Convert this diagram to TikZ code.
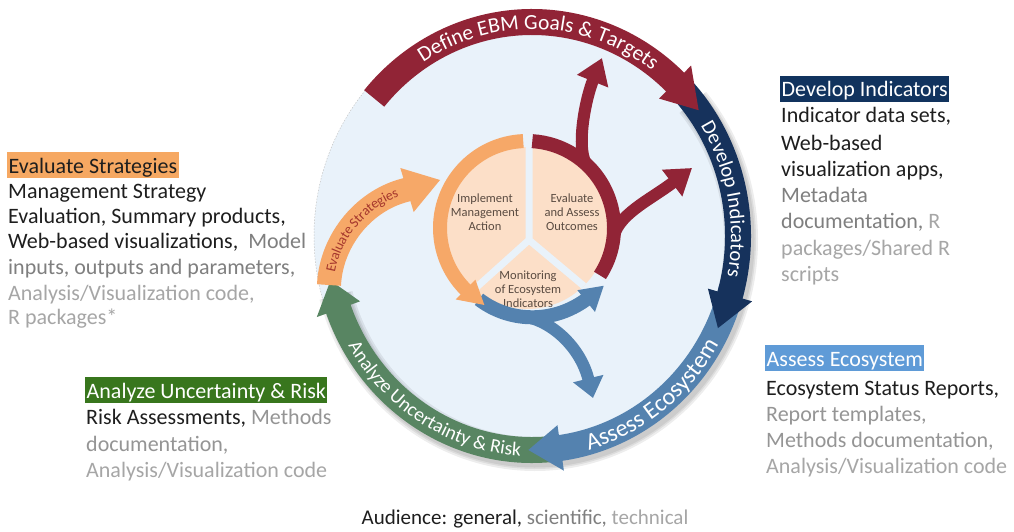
\documentclass[tikz,border=0pt]{standalone}
\usepackage{fontspec}
\setmainfont{Carlito}
\usetikzlibrary{arrows.meta,decorations.text}

\definecolor{diskblue}{RGB}{233,242,250}
\definecolor{defred}{RGB}{145,36,54}
\definecolor{devnavy}{RGB}{22,50,92}
\definecolor{assblue}{RGB}{84,130,175}
\definecolor{anagreen}{RGB}{88,133,98}
\definecolor{evalorange}{RGB}{246,168,104}
\definecolor{peach}{RGB}{252,223,200}
\definecolor{sectortext}{RGB}{90,75,65}
\definecolor{strattext}{RGB}{165,55,45}
\definecolor{hlorange}{RGB}{246,168,98}
\definecolor{hlnavy}{RGB}{17,51,94}
\definecolor{hlblue}{RGB}{95,155,215}
\definecolor{hlgreen}{RGB}{56,118,29}
\definecolor{txtgeneral}{RGB}{30,30,30}
\definecolor{txtsci}{RGB}{127,127,127}
\definecolor{txttech}{RGB}{166,166,166}

\tikzset{
  ringband/.style={line width=26pt},
  innerband/.style={line width=14pt},
  branchband/.style={line width=12pt},
  ringshadow/.style={black, opacity=0.07},
  heading/.style={anchor=base west, inner xsep=1.5pt, inner ysep=0pt,
    text height=21pt, text depth=5pt, font=\fontsize{22}{26}\selectfont},
  bodyline/.style={anchor=base west, inner sep=0pt,
    font=\fontsize{22}{26}\selectfont, text=txtgeneral},
  sectorlabel/.style={align=center, font=\fontsize{12.5}{14}\selectfont,
    text=sectortext, inner sep=0pt},
}

\begin{document}
\begin{tikzpicture}[x=1pt,y=1pt]
\useasboundingbox (0,-532) rectangle (1014,0);
\fill[white] (0,-532) rectangle (1014,0);

% ---------------- outer cycle ----------------
\begin{scope}[shift={(532,-236)}]
  \fill[diskblue] (0,0) ellipse[x radius=218, y radius=226];
  \draw[gray!45, line width=0.5pt, dash pattern=on 1.5pt off 1.5pt]
    (0,0) ellipse[x radius=218, y radius=226];

  % soft shadow under the lower right part of the ring
  \foreach \w in {34,30,27}{
    \draw[ringshadow, line width=\w pt] ([shift={(3,-4)}]40:206 and 214)
      arc[start angle=40, end angle=-165, x radius=206, y radius=214];
  }

  % Analyze Uncertainty & Risk
  \draw[anagreen, ringband] (-84:206 and 214)
    arc[start angle=-84, end angle=-161, x radius=206, y radius=214];
  \fill[anagreen] (-160:183 and 191) -- (-160:229 and 237) -- (-168:206 and 214) -- cycle;

  % Assess Ecosystem
  \draw[assblue, ringband] (-14:206 and 214)
    arc[start angle=-14, end angle=-83, x radius=206, y radius=214];
  \fill[assblue] (-82:183 and 191) -- (-82:229 and 237) -- (-91:206 and 214) -- cycle;

  % Develop Indicators
  \draw[devnavy, ringband] (44:206 and 214)
    arc[start angle=44, end angle=-17, x radius=206, y radius=214];
  \fill[devnavy] (-16:183 and 191) -- (-16:229 and 237) -- (-25.5:206 and 214) -- cycle;

  % Define EBM Goals & Targets
  \draw[defred, ringband] (140:206 and 214)
    arc[start angle=140, end angle=45, x radius=206, y radius=214];
  \fill[defred] (46:183 and 191) -- (46:229 and 237) -- (36:206 and 214) -- cycle;

  % labels along the ring
  \path[decorate, decoration={text along path, text align=center,
      text={|\fontsize{21.5}{25}\selectfont\color{white}|Define EBM Goals {\&} Targets}}]
    (130:199 and 207) arc[start angle=130, end angle=46, x radius=199, y radius=207];
  \path[decorate, decoration={text along path, text align=center,
      text={|\fontsize{20.5}{24}\selectfont\color{white}|Develop Indicators}}]
    (38:199 and 207) arc[start angle=38, end angle=-17, x radius=199, y radius=207];
  \path[decorate, decoration={text along path, text align=center,
      text={|\fontsize{24}{28}\selectfont\color{white}|Assess Ecosystem}}]
    (-80:214 and 222) arc[start angle=-80, end angle=-24, x radius=214, y radius=222];
  \path[decorate, decoration={text along path, text align=center,
      text={|\fontsize{19.5}{23}\selectfont\color{white}|Analyze Uncertainty {\&} Risk}}]
    (-156:212 and 220) arc[start angle=-156, end angle=-87, x radius=212, y radius=220];
\end{scope}

% Evaluate Strategies (inner orange arrow)
\draw[evalorange, line width=24pt] (329,-285) .. controls (331,-240) and (365,-198) .. (410,-189);
\fill[evalorange] (400.3,-168) -- (440,-180) -- (413.7,-212) -- cycle;
\path[decorate, decoration={text along path, text align=center, raise=-4.5pt,
    text={|\fontsize{14}{16}\selectfont\color{strattext}|Evaluate Strategies}}]
  (329,-285) .. controls (331,-240) and (365,-198) .. (410,-189);

% ---------------- inner cycle ----------------
\begin{scope}[shift={(527,-228)}]
  \fill[peach] (0,0) circle[radius=81];
  \begin{scope}
    \clip (0,0) circle[radius=81];
    \draw[diskblue, line width=7pt]
      (2,-12) -- ++(90:120) (2,-12) -- ++(-138:120) (2,-12) -- ++(-40:120);
  \end{scope}

  \node[sectorlabel] (implement) at (-42,16) {Implement\\Management\\Action};
  \node[sectorlabel] (evaluate) at (45,16) {Evaluate\\and Assess\\Outcomes};
  \node[sectorlabel] (monitoring) at (1,-61) {Monitoring\\of Ecosystem\\Indicators};

  % Evaluate and Assess Outcomes arc with its two branches
  \draw[defred, innerband] (-33:87) arc[start angle=-33, end angle=86.5, radius=87];
  \draw[defred, branchband, -{Triangle[width=32pt,length=25pt]}]
    (61,61) .. controls (48,76) and (58,128) .. (75,170);
  \draw[defred, branchband, -{Triangle[width=32pt,length=25pt]}]
    (86,-12) .. controls (89,13) and (123,28) .. (165,60);

  % Monitoring arc with its branch
  \draw[assblue, innerband] plot[domain=236:312, samples=40, variable=\t]
    ({(86+7*(\t-236)/76)*cos(\t)}, {(86+7*(\t-236)/76)*sin(\t)});
  \fill[assblue] (309:80) -- (309:108) -- (323:96) -- cycle;
  \draw[assblue, branchband, -{Triangle[width=30pt,length=20pt]}]
    (-7,-88) .. controls (21,-90) and (53,-117) .. (66,-170);

  % Implement Management Action arc
  \draw[evalorange, innerband] (92.5:87) arc[start angle=92.5, end angle=227, radius=87];
  \fill[evalorange] (225:73) -- (225:101) -- (241:88) -- cycle;
\end{scope}

% ---------------- side texts ----------------
\node[heading, fill=hlorange, text=txtgeneral] (esHead) at (7,-173) {Evaluate Strategies};
\node[bodyline] (es1) at (8,-198) {Management Strategy};
\node[bodyline] (es2) at (8,-223) {Evaluation, Summary products,};
\node[bodyline] (es3) at (8,-248) {Web-based visualizations,\ \ \textcolor{txtsci}{Model}};
\node[bodyline, text=txtsci] (es4) at (8,-274) {inputs, outputs and parameters,};
\node[bodyline, text=txttech] (es5) at (8,-300) {Analysis/Visualization code,};
\node[bodyline, text=txttech] (es6) at (8,-324) {R packages*};

\node[heading, fill=hlnavy, text=white] (diHead) at (780,-97) {Develop Indicators};
\node[bodyline] (di1) at (781,-123) {Indicator data sets,};
\node[bodyline] (di2) at (781,-150) {Web-based};
\node[bodyline] (di3) at (781,-176) {visualization apps,};
\node[bodyline, text=txtsci] (di4) at (781,-202) {Metadata};
\node[bodyline, text=txtsci] (di5) at (781,-228) {documentation, \textcolor{txttech}{R}};
\node[bodyline, text=txttech] (di6) at (781,-255) {packages/Shared R};
\node[bodyline, text=txttech] (di7) at (781,-281) {scripts};

\node[heading, fill=hlblue, text=white] (aeHead) at (765,-366) {Assess Ecosystem};
\node[bodyline] (ae1) at (766,-395) {Ecosystem Status Reports,};
\node[bodyline, text=txttech!90!black] (ae2) at (766,-421) {Report templates,};
\node[bodyline, text=txttech!90!black] (ae3) at (766,-447) {Methods documentation,};
\node[bodyline, text=txttech] (ae4) at (766,-473) {Analysis/Visualization code};

\node[heading, fill=hlgreen, text=white] (auHead) at (85,-398) {Analyze Uncertainty \& Risk};
\node[bodyline] (au1) at (86,-424) {Risk Assessments, \textcolor{txttech!90!black}{Methods}};
\node[bodyline, text=txttech!90!black] (au2) at (86,-451) {documentation,};
\node[bodyline, text=txttech] (au3) at (86,-477) {Analysis/Visualization code};

\node[anchor=base, inner sep=0pt, font=\fontsize{21}{25}\selectfont] (audience) at (525,-524)
  {\textcolor{txtgeneral}{Audience: general,} \textcolor{txtsci}{scientific,} \textcolor{txttech}{technical}};
\end{tikzpicture}
\end{document}
